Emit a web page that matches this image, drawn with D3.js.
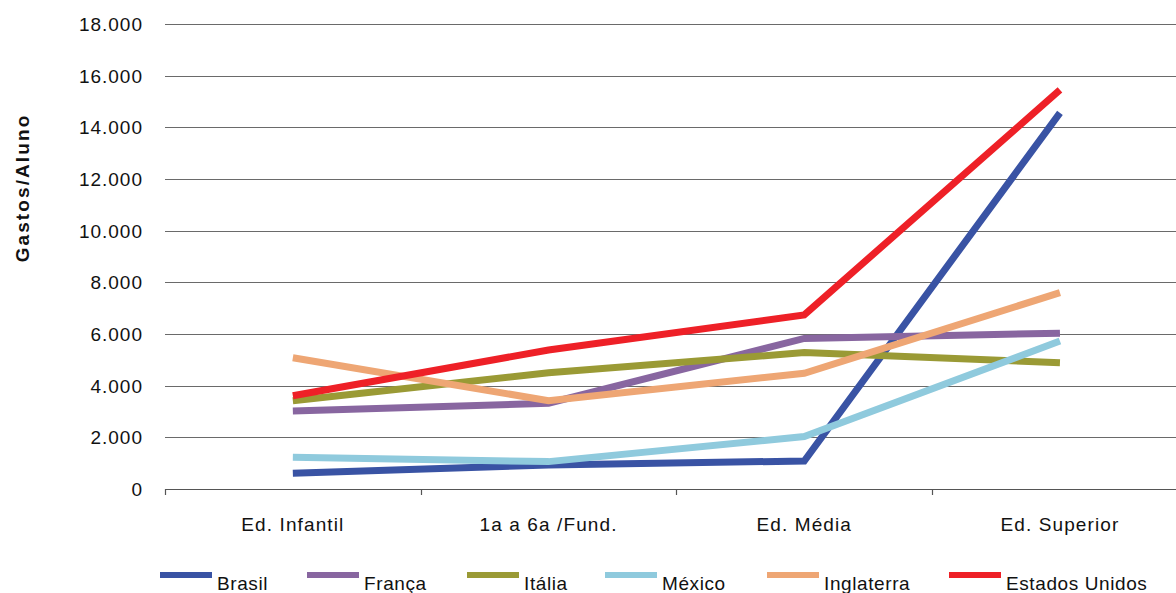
<!DOCTYPE html>
<html>
<head>
<meta charset="utf-8">
<script src="https://cdn.jsdelivr.net/npm/d3@7"></script>
<style>
  html, body { margin: 0; padding: 0; background: #fff; }
  svg { display: block; }
  text { font-family: "Liberation Sans", Arial, sans-serif; fill: #111; }
</style>
</head>
<body>
<script>
// Education levels on the x axis
const categories = ["Ed. Infantil", "1a a 6a /Fund.", "Ed. Média", "Ed. Superior"];

// Spending per student by country
const brasil     = [610, 930, 1085, 14560];
const franca     = [3020, 3320, 5830, 6030];
const italia     = [3420, 4500, 5280, 4890];
const mexico     = [1230, 1060, 2030, 5730];
const inglaterra = [5080, 3420, 4480, 7600];
const eua        = [3610, 5380, 6740, 15450];

const seriesNames  = ["Brasil", "França", "Itália", "México", "Inglaterra", "Estados Unidos"];
const seriesValues = [brasil, franca, italia, mexico, inglaterra, eua];
const seriesColors = ["#3953a4", "#8866a0", "#9a9a35", "#8fcadd", "#eea674", "#ee2027"];

const yTicks = [0, 2000, 4000, 6000, 8000, 10000, 12000, 14000, 16000, 18000];
const yTitle = "Gastos/Aluno";

const W = 1176, H = 593;
const plotLeft = 165, plotTop = 24, plotBottom = 489;
const band = 255.7;

const svg = d3.select("body").append("svg")
  .attr("width", W).attr("height", H);

const x = d3.scaleBand()
  .domain(categories)
  .range([plotLeft, plotLeft + band * categories.length])
  .padding(0);

const y = d3.scaleLinear().domain([0, 18000]).range([plotBottom, plotTop]);

const fmt = v => d3.format(",")(v).replace(/,/g, ".");

// Horizontal grid lines
svg.append("g")
  .selectAll("line")
  .data(yTicks.filter(d => d > 0))
  .join("line")
  .attr("x1", plotLeft).attr("x2", W)
  .attr("y1", d => Math.round(y(d)) + 0.5)
  .attr("y2", d => Math.round(y(d)) + 0.5)
  .attr("stroke", "#6a6a6a")
  .attr("stroke-width", 1.2);

// Y tick labels
svg.append("g")
  .selectAll("text")
  .data(yTicks)
  .join("text")
  .attr("x", 143)
  .attr("y", d => y(d))
  .attr("dy", "0.36em")
  .attr("text-anchor", "end")
  .style("font-size", "19px")
  .style("letter-spacing", "1px")
  .text(d => fmt(d));

// X axis line with ticks at band boundaries
const xAxis = svg.append("g");
xAxis.append("line")
  .attr("x1", plotLeft).attr("x2", W)
  .attr("y1", Math.round(y(0)) + 0.5).attr("y2", Math.round(y(0)) + 0.5)
  .attr("stroke", "#555").attr("stroke-width", 1.2);
xAxis.selectAll("line.tick")
  .data(categories)
  .join("line")
  .attr("class", "tick")
  .attr("x1", d => Math.round(x(d)) + 0.5)
  .attr("x2", d => Math.round(x(d)) + 0.5)
  .attr("y1", y(0)).attr("y2", y(0) + 6)
  .attr("stroke", "#555").attr("stroke-width", 1.2);
xAxis.selectAll("text")
  .data(categories)
  .join("text")
  .attr("x", d => x(d) + x.bandwidth() / 2)
  .attr("y", 531)
  .attr("text-anchor", "middle")
  .style("font-size", "19px")
  .style("letter-spacing", "1.1px")
  .text(d => d);

// Y axis title
svg.append("text")
  .attr("transform", "translate(29,188) rotate(-90)")
  .attr("text-anchor", "middle")
  .style("font-size", "19px")
  .style("font-weight", "bold")
  .style("letter-spacing", "2.1px")
  .text(yTitle);

// Series lines
const line = d3.line()
  .x((d, i) => x(categories[i]) + x.bandwidth() / 2)
  .y(d => y(d));

svg.append("g")
  .selectAll("path")
  .data(seriesValues)
  .join("path")
  .attr("d", d => line(d))
  .attr("fill", "none")
  .attr("stroke", (d, i) => seriesColors[i])
  .attr("stroke-width", 7)
  .attr("stroke-linejoin", "miter")
  .attr("stroke-linecap", "butt");

// Legend
const legendX = [160, 307, 467, 605, 767, 949];
const legend = svg.append("g")
  .selectAll("g")
  .data(seriesNames)
  .join("g")
  .attr("transform", (d, i) => `translate(${legendX[i]},0)`);
legend.append("rect")
  .attr("x", 0).attr("y", 572)
  .attr("width", 52).attr("height", 6)
  .attr("fill", (d, i) => seriesColors[i]);
legend.append("text")
  .attr("x", 57).attr("y", 590)
  .style("font-size", "19px")
  .style("letter-spacing", "0.6px")
  .text(d => d);
</script>
</body>
</html>
